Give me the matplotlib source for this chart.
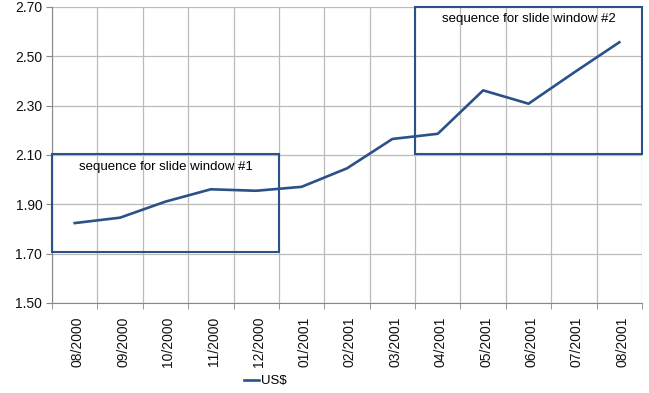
import matplotlib.pyplot as plt
from matplotlib.patches import Rectangle
from matplotlib.transforms import ScaledTranslation

plt.rcParams['font.family'] = ['Liberation Sans', 'DejaVu Sans']

months = ["08/2000", "09/2000", "10/2000", "11/2000", "12/2000", "01/2001",
          "02/2001", "03/2001", "04/2001", "05/2001", "06/2001", "07/2001", "08/2001"]
usd = [1.824, 1.846, 1.911, 1.961, 1.955, 1.971, 2.046, 2.165, 2.186, 2.362, 2.308, 2.434, 2.557]

# sliding windows: (first month index, last month index, low, high)
win1 = (0, 4, 1.706, 2.104)
win2 = (8, 12, 2.106, 2.699)

blue = '#2a5188'

fig = plt.figure(figsize=(6.49, 3.93), dpi=100)
ax = fig.add_axes([52 / 649, 1 - 303 / 393, 590 / 649, 296 / 393])

x = list(range(len(months)))
ax.plot(x, usd, color=blue, lw=1.9, label='US$', zorder=3)

ax.set_xlim(-0.5, len(months) - 0.5)
ax.set_ylim(1.5, 2.7)
ax.set_yticks([1.5, 1.7, 1.9, 2.1, 2.3, 2.5, 2.7])
ax.set_yticklabels(['%.2f' % v for v in ax.get_yticks()], fontsize=10, color='#111111')
ax.set_xticks(x)
ax.set_xticklabels(months, rotation=90, fontsize=10, color='#111111')
ax.tick_params(axis='x', length=0, pad=10)
shift = ScaledTranslation(3 / 100, 0, fig.dpi_scale_trans)
for lab in ax.get_xticklabels():
    lab.set_transform(lab.get_transform() + shift)
ax.set_xticks([i - 0.5 for i in range(len(months) + 1)], minor=True)
ax.tick_params(axis='x', which='minor', length=4, color='#888888')
ax.tick_params(axis='y', length=4, color='#888888', pad=3)

ax.grid(True, axis='y', color='#bbbbbb', lw=0.9)
ax.grid(True, axis='x', which='minor', color='#bbbbbb', lw=0.9)
for s in ['top', 'right']:
    ax.spines[s].set_visible(False)
ax.spines['left'].set_color('#888888')
ax.spines['bottom'].set_color('#888888')

for i0, i1, lo, hi in (win1, win2):
    ax.add_patch(Rectangle((i0 - 0.5, lo), i1 - i0 + 1, hi - lo, fill=False,
                           ec=blue, lw=1.5, zorder=4, clip_on=False))

ax.text(2.0, 2.05, 'sequence for slide window #1', ha='center', va='center', fontsize=9.5)
ax.text(10.0, 2.652, 'sequence for slide window #2', ha='center', va='center', fontsize=9.5)

fig.legend(loc='center', bbox_to_anchor=(265 / 649, 1 - 381 / 393), frameon=False,
           fontsize=9.5, handlelength=1.2, handletextpad=0.1)

fig.savefig('out.png', dpi=100)
